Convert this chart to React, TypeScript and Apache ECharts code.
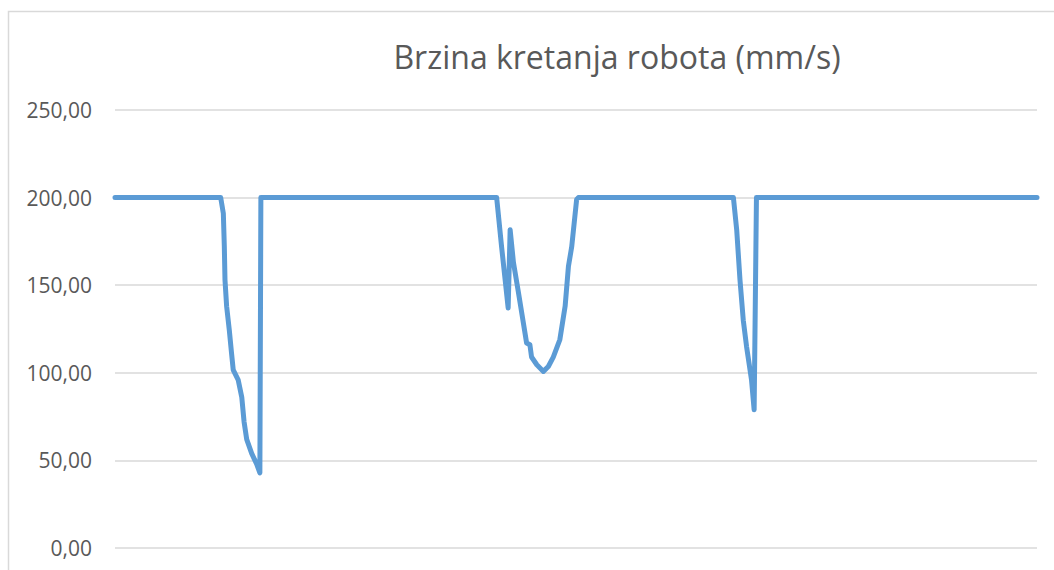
import React, { useEffect, useRef } from "react";
import * as echarts from "echarts";

const TITLE = "Brzina kretanja robota (mm/s)";
const Y_TICKS = [0, 50, 100, 150, 200, 250];
const sampleIdx = [
  0, 32.1, 32.9, 33.2, 33.4, 33.9, 34.7, 35.4, 35.9, 37.4, 38.5, 39.2, 40.0, 41.5, 43.0, 44.0, 44.3,
  115.9, 117.4, 119.4, 120.0, 121.0, 122.5, 124.0, 125.0, 126.0, 126.5, 128.1, 130.1, 131.6, 133.1,
  135.1, 136.7, 137.7, 138.7, 140.2, 140.7,
  187.8, 188.8, 189.8, 190.8, 191.8, 193.3, 194.1, 194.8, 280,
];
const speed = [
  200, 200, 191, 172, 153, 138, 124.6, 111, 101.7, 96, 86, 72, 62, 54, 48, 42.9, 200,
  200, 172, 137, 181.7, 163, 146, 128.6, 117, 116, 109, 104.6, 100.8, 103.6, 109,
  119, 138, 160.7, 172, 199, 200,
  200, 181.7, 153, 130, 115, 96, 78.9, 200, 200,
];

export default function App() {
  const ref = useRef<HTMLDivElement>(null);
  useEffect(() => {
    if (!ref.current) return;
    const chart = echarts.init(ref.current, null, { renderer: "svg" });
    const data = sampleIdx.map((t, i) => [t, speed[i]]);
    chart.setOption({
      animation: false,
      backgroundColor: "#ffffff",
      graphic: [
        {
          type: "rect",
          shape: { x: 8.5, y: 11.5, width: 1400, height: 800 },
          style: { fill: "none", stroke: "#d9d9d9", lineWidth: 1.5 },
          silent: true,
        },
        {
          type: "text",
          x: 617,
          y: 56,
          style: {
            text: TITLE,
            fill: "#595959",
            font: "32px 'Open Sans', sans-serif",
            align: "center",
            verticalAlign: "middle",
          },
        },
      ],
      grid: { left: 115, right: 17, top: 110, bottom: 22, containLabel: false },
      xAxis: {
        type: "value",
        min: 0,
        max: 280,
        show: false,
        splitLine: { show: false },
      },
      yAxis: {
        type: "value",
        min: Y_TICKS[0],
        max: Y_TICKS[Y_TICKS.length - 1],
        interval: 50,
        axisLine: { show: false },
        axisTick: { show: false },
        axisLabel: {
          color: "#595959",
          fontSize: 21,
          fontFamily: "'Open Sans', sans-serif",
          margin: 23,
          formatter: (v: number) => v.toFixed(2).replace(".", ","),
        },
        splitLine: { lineStyle: { color: "#d9d9d9", width: 1.5 } },
      },
      series: [
        {
          type: "line",
          data,
          showSymbol: false,
          symbol: "none",
          smooth: false,
          lineStyle: { color: "#5b9bd5", width: 5, cap: "round", join: "round" },
        },
      ],
    });
    return () => chart.dispose();
  }, []);
  return (
    <div
      ref={ref}
      style={{ position: "fixed", left: 0, top: 0, width: 1054, height: 570 }}
    />
  );
}
